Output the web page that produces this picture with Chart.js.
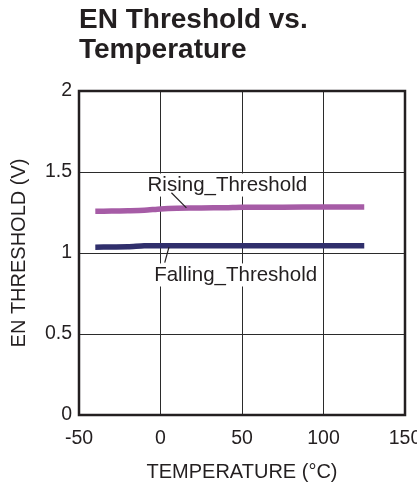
<!DOCTYPE html>
<html><head><meta charset="utf-8">
<script src="https://cdn.jsdelivr.net/npm/chart.js@4.4.0/dist/chart.umd.min.js"></script>
<style>html,body{margin:0;padding:0;background:#fff;}</style>
</head><body>
<canvas id="c" width="417" height="487"></canvas>
<script>
// ---- data ----
const titleLines = ['EN Threshold vs.', 'Temperature'];
const xAxisTitle = 'TEMPERATURE (°C)';
const yAxisTitle = 'EN THRESHOLD (V)';
const xTicks = [-50, 0, 50, 100, 150];
const xTickLabels = ['-50', '0', '50', '100', '150'];
const yTicks = [0, 0.5, 1, 1.5, 2];
const yTickLabels = ['0', '0.5', '1', '1.5', '2'];
const seriesNames = ['Rising_Threshold', 'Falling_Threshold'];
const risingTemp = [-40, -30, -20, -10, 0, 10, 25, 40, 50, 75, 100, 125];
const risingV    = [1.258, 1.259, 1.261, 1.264, 1.272, 1.276, 1.278, 1.280, 1.283, 1.283, 1.284, 1.284];
const fallingTemp = [-40, -30, -20, -10, 0, 25, 50, 75, 100, 125];
const fallingV    = [1.036, 1.037, 1.038, 1.044, 1.045, 1.045, 1.045, 1.045, 1.045, 1.045];

// ---- styling / layout ----
const FONT = "'Liberation Sans', Arial, sans-serif";
const INK = '#231f20';
const annotations = [
  {label: seriesNames[0], x: 41.0, y: 1.381, lead: [[6.7, 1.372], [15.9, 1.279]]},
  {label: seriesNames[1], x: 46.1, y: 0.826, lead: [[5.2, 1.036], [2.6, 0.941]]}
];

const toPts = (xs, ys) => xs.map((x, i) => ({x, y: ys[i]}));
const labelFor = (vals, labels) => v => { const i = vals.indexOf(v); return i >= 0 ? labels[i] : ''; };

const framePlugin = {
  id: 'frameAndNotes',
  afterDatasetsDraw(chart) {
    const {ctx, chartArea: a, scales: {x, y}} = chart;
    ctx.save();
    const fs = 20.5;
    ctx.font = fs + 'px ' + FONT;
    ctx.textAlign = 'center';
    ctx.textBaseline = 'alphabetic';
    annotations.forEach(n => {
      const cx = x.getPixelForValue(n.x), by = y.getPixelForValue(n.y);
      const w = ctx.measureText(n.label).width;
      ctx.fillStyle = '#fff';
      ctx.fillRect(cx - w / 2 - 2, by - fs * 0.72 - 3, w + 4, fs * 0.72 + 3 + fs * 0.21 + 1);
      ctx.fillStyle = INK;
      ctx.fillText(n.label, cx, by);
      ctx.strokeStyle = INK;
      ctx.lineWidth = 1.2;
      ctx.beginPath();
      ctx.moveTo(x.getPixelForValue(n.lead[0][0]), y.getPixelForValue(n.lead[0][1]));
      ctx.lineTo(x.getPixelForValue(n.lead[1][0]), y.getPixelForValue(n.lead[1][1]));
      ctx.stroke();
    });
    ctx.strokeStyle = INK;
    ctx.lineWidth = 2.5;
    ctx.strokeRect(a.left, a.top, a.right - a.left, a.bottom - a.top);
    ctx.restore();
  }
};

new Chart(document.getElementById('c'), {
  type: 'line',
  data: {
    datasets: [
      {label: seriesNames[0], data: toPts(risingTemp, risingV), borderColor: '#a65ca6', borderWidth: 5.5, pointRadius: 0, tension: 0.25, borderCapStyle: 'butt'},
      {label: seriesNames[1], data: toPts(fallingTemp, fallingV), borderColor: '#302f6c', borderWidth: 5.5, pointRadius: 0, tension: 0.25, borderCapStyle: 'butt'}
    ]
  },
  options: {
    responsive: false,
    animation: false,
    devicePixelRatio: 1,
    layout: {padding: {left: 0, right: 12, top: 0, bottom: 0}},
    plugins: {
      legend: {display: false},
      tooltip: {enabled: false},
      title: {
        display: true, text: titleLines, align: 'start', fullSize: false, color: INK,
        font: {family: FONT, size: 28, weight: 'bold', lineHeight: 30 / 28},
        padding: {top: 5.3, bottom: 25.7}
      }
    },
    scales: {
      x: {
        type: 'linear', min: -50, max: 150,
        afterBuildTicks: s => { s.ticks = xTicks.map(v => ({value: v})); },
        afterFit: s => { s.height = 72; s.paddingLeft = 0; s.paddingRight = 0; },
        grid: {color: '#2b2b2b', lineWidth: 1, drawTicks: false},
        border: {display: false},
        ticks: {color: INK, font: {family: FONT, size: 19.5}, padding: 12, maxRotation: 0, autoSkip: false,
                callback: labelFor(xTicks, xTickLabels)},
        title: {display: true, text: xAxisTitle, color: INK, font: {family: FONT, size: 20}, padding: {top: 0, bottom: 2.5}}
      },
      y: {
        type: 'linear', min: 0, max: 2,
        afterBuildTicks: s => { s.ticks = yTicks.map(v => ({value: v})); },
        afterFit: s => { s.width = 79; s.paddingTop = 0; s.paddingBottom = 0; },
        grid: {color: '#2b2b2b', lineWidth: 1, drawTicks: false},
        border: {display: false},
        ticks: {color: INK, font: {family: FONT, size: 19.5}, padding: 7, autoSkip: false,
                callback: labelFor(yTicks, yTickLabels)},
        title: {display: true, text: yAxisTitle, color: INK, font: {family: FONT, size: 20}, padding: {top: 7, bottom: 0}}
      }
    }
  },
  plugins: [framePlugin]
});
</script>
</body></html>
